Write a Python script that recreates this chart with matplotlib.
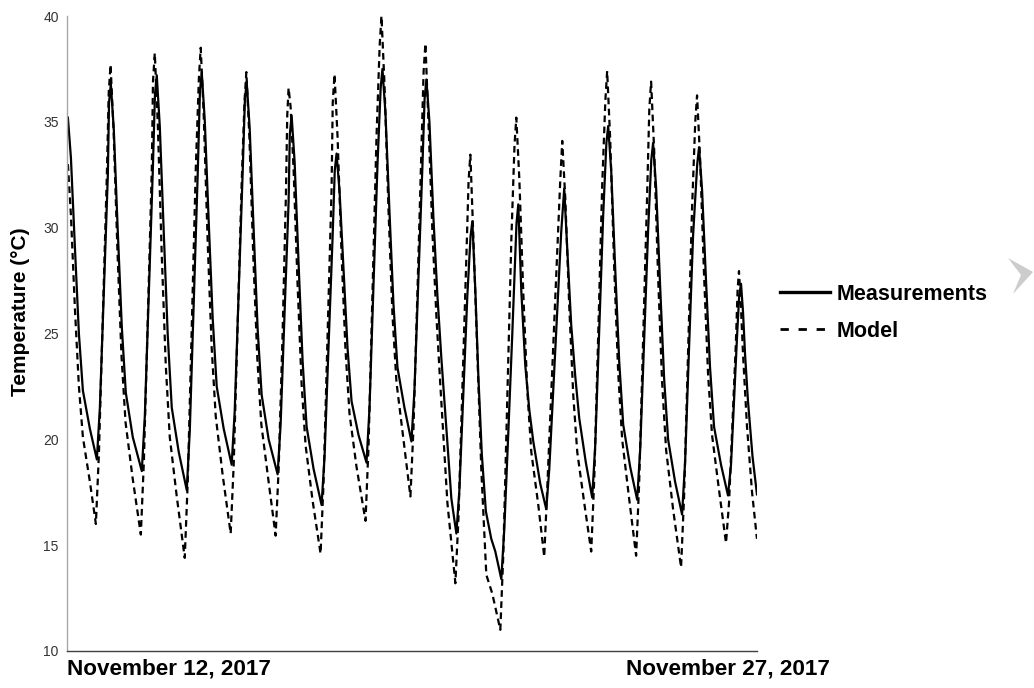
"""Measured vs modelled temperature, 12-27 November 2017.

Writes out.png
"""
import matplotlib
matplotlib.use("Agg")
import matplotlib.pyplot as plt
from matplotlib.lines import Line2D
from matplotlib.patches import Polygon

plt.rcParams["font.family"] = ["Liberation Sans", "DejaVu Sans"]

# time in days since the first sample, temperature in deg C
t_meas = [
    0.000, 0.067, 0.155, 0.244, 0.333, 0.488, 0.643,
    0.710, 0.798, 0.887, 0.913, 0.953,
    1.020, 1.108, 1.197, 1.286, 1.441, 1.641,
    1.708, 1.796, 1.885, 1.933, 1.973,
    2.040, 2.128, 2.217, 2.306, 2.461, 2.639,
    2.706, 2.794, 2.883, 2.931, 2.971,
    3.038, 3.126, 3.215, 3.304, 3.459, 3.636,
    3.703, 3.791, 3.880, 3.929, 3.969,
    4.036, 4.124, 4.213, 4.302, 4.457, 4.656,
    4.723, 4.811, 4.900, 4.927, 4.967,
    5.034, 5.122, 5.211, 5.300, 5.455, 5.632,
    5.699, 5.787, 5.876, 5.925, 5.965,
    6.032, 6.120, 6.209, 6.298, 6.453, 6.630,
    6.697, 6.785, 6.874, 6.944, 6.984,
    7.051, 7.139, 7.228, 7.317, 7.472, 7.627,
    7.694, 7.782, 7.871, 7.920, 7.960,
    8.027, 8.115, 8.204, 8.293, 8.404, 8.514, 8.625,
    8.692, 8.780, 8.869, 8.940, 8.980,
    9.047, 9.113, 9.190, 9.280, 9.400, 9.490, 9.623,
    9.690, 9.778, 9.867, 9.960, 10.000,
    10.067, 10.155, 10.244, 10.333, 10.488, 10.621,
    10.688, 10.776, 10.865, 10.953, 11.020,
    11.087, 11.175, 11.264, 11.353, 11.500, 11.641,
    11.708, 11.796, 11.885, 11.956, 11.996,
    12.063, 12.151, 12.240, 12.329, 12.484, 12.639,
    12.706, 12.794, 12.883, 12.953, 12.993,
    13.060, 13.148, 13.237, 13.326, 13.481, 13.636,
    13.703, 13.791, 13.880, 13.973, 14.013,
    14.080, 14.168, 14.257, 14.346, 14.501, 14.656,
    14.723, 14.790, 14.860, 14.905, 14.945,
    14.990, 15.035, 15.100, 15.200, 15.299,
]
meas = [
    35.2, 33.3, 29.1, 25.0, 22.3, 20.5, 19.05,
    21.5, 27.0, 32.5, 35.9, 36.8,
    34.6, 29.8, 25.3, 22.2, 20.1, 18.5,
    21.1, 26.9, 32.7, 36.3, 37.2,
    34.8, 29.8, 24.9, 21.5, 19.4, 17.6,
    20.4, 26.5, 32.6, 36.4, 37.35,
    35.1, 30.3, 25.7, 22.5, 20.5, 18.8,
    21.3, 26.9, 32.6, 36.0, 36.9,
    34.7, 29.9, 25.2, 22.1, 20.0, 18.35,
    20.7, 26.0, 31.2, 34.4, 35.3,
    33.1, 28.3, 23.7, 20.6, 18.6, 16.9,
    19.2, 24.4, 29.5, 32.7, 33.5,
    31.7, 28.0, 24.3, 21.8, 20.2, 18.9,
    21.5, 27.3, 33.0, 36.6, 37.5,
    35.4, 30.8, 26.4, 23.4, 21.5, 19.9,
    22.3, 27.6, 32.9, 36.1, 37.0,
    35.0, 30.5, 26.8, 23.8, 20.5, 17.2, 15.55,
    17.6, 22.2, 26.8, 29.6, 30.3,
    27.0, 23.0, 19.3, 16.6, 15.3, 14.7, 13.4,
    15.8, 20.3, 25.0, 30.2, 31.1,
    27.0, 23.5, 21.4, 19.9, 17.9, 16.7,
    18.6, 22.3, 26.0, 29.8, 31.85,
    29.0, 25.4, 23.0, 21.0, 18.9, 17.25,
    19.7, 25.1, 30.6, 34.0, 34.8,
    32.7, 28.1, 23.7, 20.7, 18.7, 17.15,
    19.5, 24.7, 29.9, 33.2, 34.0,
    31.9, 27.3, 22.9, 20.0, 18.0, 16.45,
    18.9, 24.3, 29.6, 33.0, 33.8,
    31.8, 27.5, 23.4, 20.6, 18.8, 17.35,
    18.8, 21.8, 25.0, 26.8, 27.35,
    26.0, 24.0, 21.8, 19.2, 17.4,
]

t_model = [
    0.000, 0.067, 0.155, 0.244, 0.333, 0.488, 0.621,
    0.688, 0.776, 0.865, 0.907, 0.947,
    1.014, 1.102, 1.191, 1.280, 1.435, 1.619,
    1.686, 1.774, 1.863, 1.889, 1.929,
    1.996, 2.084, 2.173, 2.262, 2.417, 2.594,
    2.661, 2.749, 2.838, 2.909, 2.949,
    3.016, 3.104, 3.193, 3.282, 3.437, 3.614,
    3.681, 3.769, 3.858, 3.922, 3.962,
    4.029, 4.117, 4.206, 4.295, 4.450, 4.612,
    4.679, 4.767, 4.840, 4.870, 4.900, 4.945,
    5.012, 5.100, 5.189, 5.278, 5.433, 5.610,
    5.677, 5.765, 5.854, 5.880, 5.920,
    5.987, 6.075, 6.164, 6.253, 6.408, 6.608,
    6.675, 6.763, 6.852, 6.922, 6.962,
    7.029, 7.117, 7.206, 7.295, 7.450, 7.605,
    7.672, 7.760, 7.849, 7.898, 7.938,
    8.005, 8.093, 8.182, 8.271, 8.426, 8.603,
    8.670, 8.758, 8.847, 8.896, 8.936,
    9.003, 9.091, 9.180, 9.290, 9.424, 9.601,
    9.668, 9.756, 9.845, 9.916, 9.956,
    10.023, 10.111, 10.200, 10.289, 10.444, 10.576,
    10.643, 10.731, 10.820, 10.900, 10.931, 10.976,
    11.043, 11.131, 11.220, 11.309, 11.464, 11.619,
    11.686, 11.774, 11.863, 11.933, 11.973,
    12.040, 12.128, 12.217, 12.306, 12.461, 12.616,
    12.683, 12.771, 12.860, 12.909, 12.949,
    13.016, 13.104, 13.193, 13.282, 13.437, 13.614,
    13.681, 13.769, 13.858, 13.929, 13.969,
    14.036, 14.124, 14.213, 14.302, 14.457, 14.612,
    14.679, 14.750, 14.830, 14.870, 14.900,
    14.945, 14.990, 15.078, 15.190, 15.299,
]
model = [
    33.0, 30.6, 26.2, 22.5, 20.1, 18.0, 16.0,
    19.3, 25.8, 32.5, 36.4, 37.7,
    34.6, 28.8, 23.9, 20.8, 18.2, 15.5,
    18.9, 25.7, 32.8, 36.9, 38.25,
    34.9, 28.7, 23.5, 20.1, 17.3, 14.4,
    18.0, 25.2, 32.7, 37.1, 38.5,
    35.3, 29.3, 24.3, 21.1, 18.3, 15.55,
    18.8, 25.4, 32.1, 36.0, 37.35,
    34.3, 28.6, 23.8, 20.7, 18.1, 15.45,
    18.6, 25.0, 31.5, 35.3, 36.6, 35.7,
    32.7, 27.3, 22.6, 19.7, 17.1, 14.6,
    18.0, 24.8, 31.8, 35.9, 37.25,
    34.3, 28.8, 24.2, 21.2, 18.7, 16.15,
    19.7, 26.9, 34.3, 38.6, 40.0,
    36.8, 30.9, 25.9, 22.7, 20.0, 17.3,
    20.5, 26.9, 33.6, 37.4, 38.7,
    35.0, 29.8, 25.8, 22.5, 17.0, 13.2,
    16.2, 22.3, 28.6, 32.2, 33.45,
    29.5, 24.0, 18.5, 13.6, 12.7, 11.0,
    14.6, 21.9, 29.4, 33.9, 35.2,
    32.3, 26.9, 22.3, 19.4, 16.9, 14.45,
    17.7, 22.1, 26.5, 30.5, 32.2, 34.1,
    31.4, 26.3, 22.1, 19.4, 17.0, 14.7,
    18.1, 24.9, 32.0, 36.0, 37.4,
    34.2, 28.2, 23.2, 20.0, 17.2, 14.5,
    17.9, 24.6, 31.5, 35.6, 36.9,
    33.7, 27.7, 22.7, 19.5, 16.7, 13.95,
    17.3, 24.0, 30.9, 35.0, 36.25,
    33.3, 27.8, 23.1, 20.2, 17.6, 15.1,
    17.0, 20.5, 24.5, 27.1, 27.95,
    26.2, 24.0, 20.6, 17.5, 15.3,
]

y_ticks = [10, 15, 20, 25, 30, 35, 40]
date_labels = ["November 12, 2017", "November 27, 2017"]
series_labels = ["Measurements", "Model"]


def main():
    W, H = 1034, 688
    fig = plt.figure(figsize=(W / 100, H / 100), dpi=100)
    ax = fig.add_axes([67 / W, 1 - 651 / H, 690 / W, 635 / H])

    ax.plot(t_meas, meas, color="black", lw=1.6, solid_joinstyle="round")
    ax.plot(t_model, model, color="black", lw=1.6, dashes=(3, 2))

    ax.set_xlim(-0.02, 15.30)
    ax.set_ylim(10, 40)
    ax.set_yticks(y_ticks)
    ax.set_xticks([])
    ax.tick_params(axis="y", length=0, pad=6, labelsize=10, labelcolor="#333333")
    for s in ("top", "right"):
        ax.spines[s].set_visible(False)
    ax.spines["left"].set_color("#a6a6a6")
    ax.spines["bottom"].set_color("#404040")
    ax.spines["left"].set_linewidth(1.0)
    ax.spines["bottom"].set_linewidth(1.0)

    ax.set_ylabel("Temperature (°C)", fontsize=15, weight="bold")
    ax.yaxis.set_label_coords(-0.054, 0.535)

    ax.text(0.0, -0.028, date_labels[0], transform=ax.transAxes, ha="left",
            va="center", fontsize=16.2, weight="bold")
    ax.text(1.106, -0.028, date_labels[1], transform=ax.transAxes, ha="right",
            va="center", fontsize=16.2, weight="bold")

    handles = [Line2D([], [], color="black", lw=2.4),
               Line2D([], [], color="black", lw=2.0, dashes=(3, 3.5))]
    fig.legend(handles, series_labels, loc="upper left",
               bbox_to_anchor=(780 / W, 1 - 284 / H), frameon=False,
               prop={"size": 15.5, "weight": "bold"}, handlelength=2.3,
               handletextpad=0.35, labelspacing=0.72, borderpad=0,
               borderaxespad=0)

    # light grey chevron at the right edge of the source picture
    fig.patches.append(Polygon(
        [(1008 / W, 1 - 258 / H), (1033 / W, 1 - 272 / H),
         (1013 / W, 1 - 294 / H), (1021 / W, 1 - 275 / H)],
        closed=True, transform=fig.transFigure, color="#cccccc", lw=0))

    fig.savefig("out.png", dpi=100)


if __name__ == "__main__":
    main()
